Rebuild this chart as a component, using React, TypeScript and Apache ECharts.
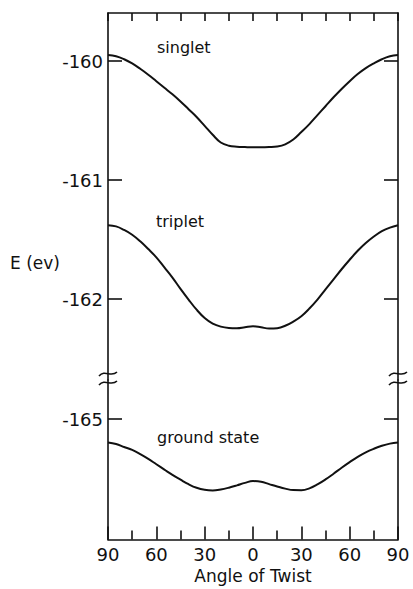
import React, { useEffect, useRef } from "react";
import * as echarts from "echarts";

// Angle of twist (signed: left half shown as 90..0, right half 0..90)
const angles = [
  -90, -85, -80, -75, -70, -65, -60, -55, -50, -45, -40, -35, -30, -25, -20, -15, -10, -5,
  0, 5, 10, 15, 20, 25, 30, 35, 40, 45, 50, 55, 60, 65, 70, 75, 80, 85, 90,
];

const singlet = [
  -159.95, -159.96, -159.985, -160.02, -160.065, -160.115, -160.17, -160.225, -160.28, -160.34,
  -160.405, -160.47, -160.545, -160.62, -160.685, -160.712, -160.72, -160.723,
  -160.725, -160.725, -160.723, -160.718, -160.7, -160.66, -160.597, -160.53, -160.455,
  -160.38, -160.305, -160.235, -160.17, -160.11, -160.06, -160.02, -159.985, -159.96, -159.95,
];

const triplet = [
  -161.38, -161.39, -161.42, -161.46, -161.515, -161.58, -161.65, -161.735, -161.82, -161.915,
  -162.005, -162.09, -162.16, -162.207, -162.232, -162.243, -162.245, -162.237,
  -162.229, -162.238, -162.248, -162.245, -162.225, -162.19, -162.145, -162.08, -162.005,
  -161.92, -161.835, -161.75, -161.67, -161.595, -161.53, -161.475, -161.43, -161.4, -161.38,
];

const groundState = [
  -165.197, -165.21, -165.235, -165.26, -165.295, -165.335, -165.38, -165.425, -165.47, -165.51,
  -165.548, -165.578, -165.595, -165.6, -165.592, -165.577, -165.558, -165.537,
  -165.522, -165.527, -165.547, -165.567, -165.585, -165.597, -165.598, -165.583, -165.55,
  -165.508, -165.46, -165.41, -165.363, -165.318, -165.28, -165.25, -165.225, -165.207, -165.197,
];

const upperTicks = [-160, -161, -162];
const lowerTicks = [-165];
const curveNames = ["singlet", "triplet", "ground state"];
const yAxisTitle = "E (ev)";
const xAxisTitle = "Angle of Twist";

const INK = "#111";
const FONT = "DejaVu Sans";

export default function App() {
  const ref = useRef<HTMLDivElement>(null);

  useEffect(() => {
    document.body.style.margin = "0";
    if (!ref.current) return;
    const chart = echarts.init(ref.current, null, { renderer: "svg" });

    const pxPerEv = 119;
    const upperMax = -160 + 48 / pxPerEv;
    const upperMin = -162 - 81 / pxPerEv;
    const lowerMax = -165 + 39 / pxPerEv;
    const lowerMin = -165 - 120.5 / pxPerEv;

    const axisLine = { show: true, onZero: false, lineStyle: { color: INK, width: 1.6 } };
    const lineSeries = (name: string, vals: number[], xi: number, yi: number) => ({
      name,
      type: "line",
      xAxisIndex: xi,
      yAxisIndex: yi,
      data: angles.map((a, i) => [a, vals[i]]),
      smooth: 0.4,
      showSymbol: false,
      lineStyle: { color: INK, width: 2 },
      silent: true,
    });

    const yAxisBase = (grid: number, pos: string, min: number, max: number, ticks: number[], labels: boolean) => ({
      type: "value",
      gridIndex: grid,
      position: pos,
      min,
      max,
      axisLine,
      splitLine: { show: false },
      axisTick: {
        show: true,
        inside: true,
        length: 14,
        customValues: ticks,
        lineStyle: { color: INK, width: 1.6 },
      },
      axisLabel: {
        show: labels,
        customValues: ticks,
        margin: 5,
        color: INK,
        fontSize: 18,
        fontFamily: FONT,
        formatter: (v: number) => String(v),
      },
    });

    const wave = (x: number, y: number) => ({
      type: "bezierCurve",
      shape: { x1: x - 9, y1: y + 2, cpx1: x - 3, cpy1: y - 5, cpx2: x + 3, cpy2: y + 4, x2: x + 9, y2: y - 2 },
      style: { stroke: INK, lineWidth: 1.6, fill: null },
    });

    const label = (text: string, x: number, y: number, size: number, align = "left") => ({
      type: "text",
      x,
      y,
      style: { text, fill: INK, fontSize: size, fontFamily: FONT, verticalAlign: "middle", align },
    });

    chart.setOption({
      animation: false,
      backgroundColor: "#fff",
      grid: [
        { left: 108, right: 15, top: 13, height: 367, outerBoundsMode: "none", containLabel: false },
        { left: 108, right: 15, top: 380, bottom: 49.5, outerBoundsMode: "none", containLabel: false },
      ],
      xAxis: [
        {
          type: "value",
          gridIndex: 0,
          position: "top",
          min: -90,
          max: 90,
          interval: 15,
          axisLine,
          splitLine: { show: false },
          axisTick: { show: true, inside: true, length: 8, lineStyle: { color: INK, width: 1.6 } },
          axisLabel: { show: false },
        },
        {
          type: "value",
          gridIndex: 1,
          position: "bottom",
          min: -90,
          max: 90,
          interval: 30,
          axisLine,
          splitLine: { show: false },
          axisTick: { show: true, inside: true, length: 13, lineStyle: { color: INK, width: 1.6 } },
          minorTick: { show: true, splitNumber: 2, length: 9, lineStyle: { color: INK, width: 1.6 } },
          minorSplitLine: { show: false },
          axisLabel: {
            show: true,
            margin: 6,
            color: INK,
            fontSize: 18,
            fontFamily: FONT,
            showMinLabel: true,
            showMaxLabel: true,
            formatter: (v: number) => String(Math.abs(v)),
          },
        },
      ],
      yAxis: [
        yAxisBase(0, "left", upperMin, upperMax, upperTicks, true),
        yAxisBase(0, "right", upperMin, upperMax, upperTicks, false),
        yAxisBase(1, "left", lowerMin, lowerMax, lowerTicks, true),
        yAxisBase(1, "right", lowerMin, lowerMax, lowerTicks, false),
      ],
      series: [
        lineSeries(curveNames[0], singlet, 0, 0),
        lineSeries(curveNames[1], triplet, 0, 0),
        lineSeries(curveNames[2], groundState, 1, 2),
      ],
      graphic: [
        label(curveNames[0], 157, 47.5, 16),
        label(curveNames[1], 156, 221.5, 16),
        label(curveNames[2], 157, 437.5, 16),
        label(yAxisTitle, 10, 263, 17),
        label(xAxisTitle, 253, 576, 17, "center"),
        wave(108, 374),
        wave(108, 383),
        wave(398, 374),
        wave(398, 383),
      ],
    });

    return () => chart.dispose();
  }, []);

  return (
    <div
      ref={ref}
      style={{ position: "absolute", left: 0, top: 0, width: 413, height: 589, background: "#fff" }}
    />
  );
}
